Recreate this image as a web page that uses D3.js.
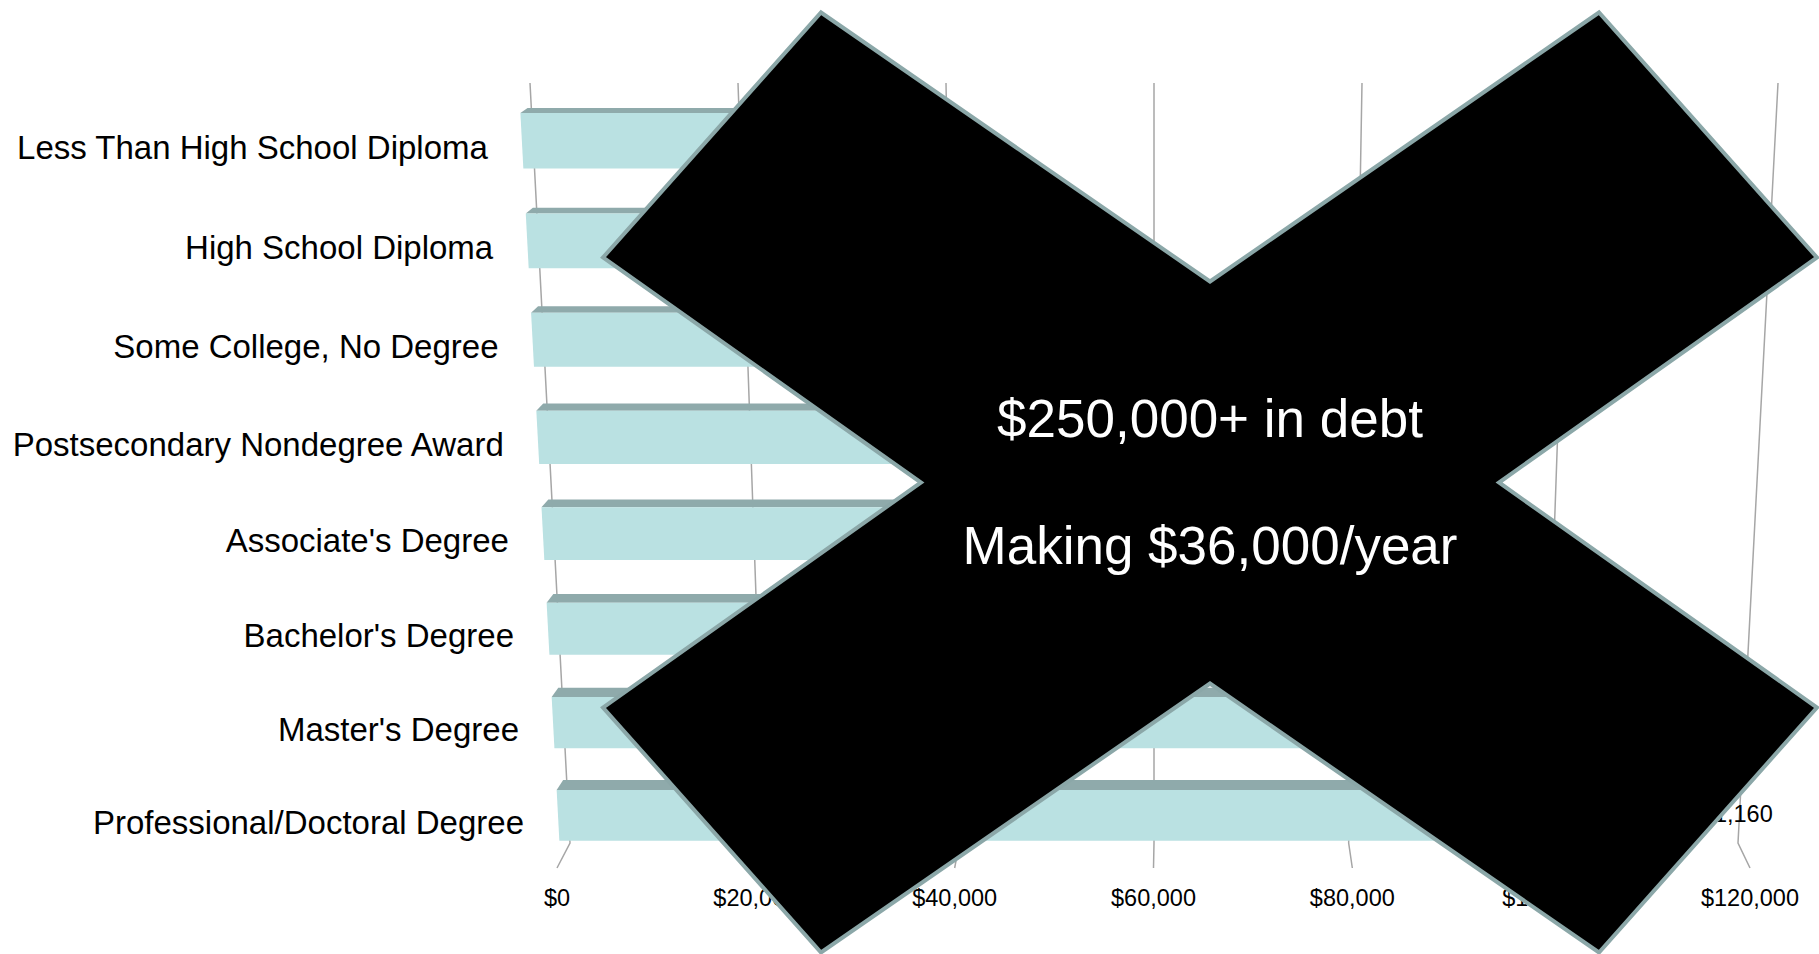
<!DOCTYPE html>
<html>
<head>
<meta charset="utf-8">
<script src="https://cdnjs.cloudflare.com/ajax/libs/d3/7.8.5/d3.min.js"></script>
<style>
body { margin: 0; background: #fff; }
text { font-family: "Liberation Sans", Arial, sans-serif; }
</style>
</head>
<body>
<div id="chart"></div>
<script>
var width = 1819;
var height = 954;

// data
var categories = ["Less Than High School Diploma", "High School Diploma", "Some College, No Degree",
  "Postsecondary Nondegree Award", "Associate's Degree", "Bachelor's Degree", "Master's Degree",
  "Professional/Doctoral Degree"];
var earnings = [27040, 37020, 40250, 41520, 43470, 61000, 75500, 111160];
var tickValues = [0, 20000, 40000, 60000, 80000, 100000, 120000];
var overlayLines = ["$250,000+ in debt", "Making $36,000/year"];

var svg = d3.select("#chart")
  .append("svg")
  .attr("width", width)
  .attr("height", height);

// back wall runs from y=83 to y=843, the floor edge sits at y=868
var wallTop = 83, wallBottom = 843, floorY = 868;
var vpX = 1154; // perspective pulls toward this x
var xTop = d3.scaleLinear().domain([0, 120000]).range([530, 1778]);
var xBottom = d3.scaleLinear().domain([0, 120000]).range([570, 1738]);
var xFloor = d3.scaleLinear().domain([0, 120000]).range([557, 1750]);
var depth = d3.scaleLinear().domain([wallTop, wallBottom]).range([0, 1]);

function xWall(v, y) {
  return d3.interpolateNumber(xTop(v), xBottom(v))(depth(y));
}
// bars stand a bit in front of the wall
function xBar(v, y, k) {
  return vpX + (xWall(v, y) - vpX) * (k || 1.018);
}

// rows on a flat plane, then tilted
var band = d3.scaleBand().domain(categories).range([0, 7.55]).paddingInner(0.45);
function yProj(u) { return 113 + 101.18 * u / (1 + 0.0066 * u); }
var topFace = d3.scaleLinear().domain([113, 790]).range([5, 10]);

// gridlines
svg.append("g")
  .selectAll("path")
  .data(tickValues)
  .enter()
  .append("path")
  .attr("d", function(d) {
    return "M" + xWall(d, wallTop) + "," + wallTop +
      "L" + xWall(d, wallBottom) + "," + wallBottom +
      "L" + xFloor(d) + "," + floorY;
  })
  .attr("fill", "none")
  .attr("stroke", "#a6a6a6")
  .attr("stroke-width", 1.5);

svg.append("g")
  .selectAll("text")
  .data(tickValues)
  .enter()
  .append("text")
  .attr("x", function(d) { return xFloor(d); })
  .attr("y", 906)
  .attr("text-anchor", "middle")
  .attr("font-size", 23.5)
  .attr("fill", "#000")
  .text(function(d) { return d3.format("$,")(d); });

// bars
var rows = categories.map(function(c, i) {
  var y1 = yProj(band(c));
  var y2 = yProj(band(c) + band.bandwidth());
  return { name: c, value: earnings[i], y1: y1, y2: y2, yc: (y1 + y2) / 2, t: topFace(y1) };
});

var bars = svg.append("g").selectAll("g").data(rows).enter().append("g");

bars.append("path")
  .attr("d", function(d) {
    var yb = d.y1 - d.t;
    return "M" + xBar(0, d.y1) + "," + d.y1 +
      "L" + xBar(0, yb, 1.006) + "," + yb +
      "L" + xBar(d.value, yb, 1.006) + "," + yb +
      "L" + xBar(d.value, d.y1) + "," + d.y1 + "Z";
  })
  .attr("fill", "#8faaab");

bars.append("path")
  .attr("d", function(d) {
    return "M" + xBar(0, d.y1) + "," + d.y1 +
      "L" + xBar(d.value, d.y1) + "," + d.y1 +
      "L" + xBar(d.value, d.y2) + "," + d.y2 +
      "L" + xBar(0, d.y2) + "," + d.y2 + "Z";
  })
  .attr("fill", "#bae1e2");

bars.append("text")
  .attr("x", function(d) { return xBar(d.value, d.yc) + 16; })
  .attr("y", function(d) { return d.yc + 7; })
  .attr("font-size", 23.5)
  .attr("fill", "#000")
  .text(function(d) { return d3.format("$,")(d.value); });

bars.append("text")
  .attr("x", function(d) { return xBar(0, d.yc) - 34; })
  .attr("y", function(d) { return d.yc + 18.5; })
  .attr("text-anchor", "end")
  .attr("font-size", 33)
  .attr("fill", "#000")
  .text(function(d) { return d.name; });

// the big X laid over the chart
var cx = 1210, cy = 482.5;
var xShape = [[0, -201], [389, -470], [607, -225], [289, 0], [607, 225], [389, 470],
  [0, 201], [-389, 470], [-607, 225], [-289, 0], [-607, -225], [-389, -470]];
svg.append("path")
  .attr("d", d3.line()(xShape.map(function(p) { return [cx + p[0], cy + p[1]]; })) + "Z")
  .attr("fill", "#000")
  .attr("stroke", "#8ba7a8")
  .attr("stroke-width", 4)
  .attr("stroke-linejoin", "miter");

svg.append("g")
  .selectAll("text")
  .data(overlayLines)
  .enter()
  .append("text")
  .attr("x", cx)
  .attr("y", function(d, i) { return 437 + i * 127; })
  .attr("text-anchor", "middle")
  .attr("font-size", 53)
  .attr("fill", "#fff")
  .text(function(d) { return d; });
</script>
</body>
</html>
